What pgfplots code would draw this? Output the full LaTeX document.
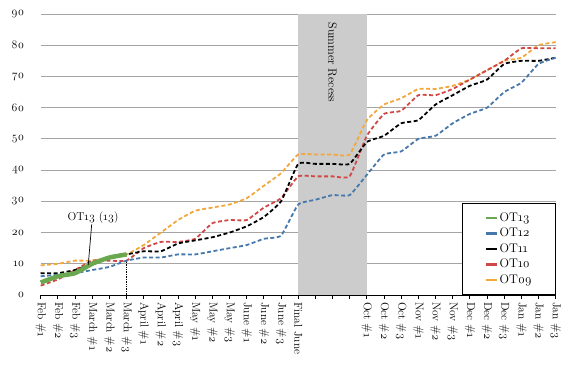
\documentclass[border=0pt]{standalone}
\usepackage{fontspec}
\setmainfont{Latin Modern Roman}[Numbers=OldStyle]
\usepackage{pgfplots}
\pgfplotsset{compat=1.18}
\usepackage{pgfplotstable}

\definecolor{cgreen}{RGB}{106,168,79}
\definecolor{cblue}{RGB}{70,120,172}
\definecolor{cred}{RGB}{208,72,70}
\definecolor{corange}{RGB}{242,168,60}
\definecolor{cgrid}{RGB}{165,165,165}
\definecolor{crecess}{RGB}{204,204,204}

\pgfplotstableread{
idx OT09 OT10 OT11 OT12
0  9.5  3  7    6
1  10   5  7    6.5
2  11   8  8    7
3  11   11 10   8
4  12   11 12   9
5  13   11 13   11
6  16   15 14   12
7  20   17 14   12
8  24   17 16.5 13
9  27   18 17.5 13
10 28   23 18.5 14
11 29   24 20   15
12 31   24 22   16
13 35   28 25   18
14 39   31 30   19
15 45   38 42   29
16 45   38 42   30.5
17 45   38 42   32
18 45   38 42   32
19 56   51 49   38.5
20 61   58 51   45
21 63   59 55   46
22 66   64 56   50
23 66   64 61   51
24 67   66 64   55
25 69   69 67   58
26 72   72 69   60
27 75   75 74   65
28 76   79 75   68
29 80   79 75   74
30 81   79 76   76
}\datamain

\pgfplotstableread{
idx OT13
0 4
1 6
2 7
3 10
4 12
5 13
}\datagreen

\begin{document}
\begin{tikzpicture}
\begin{axis}[
  scale only axis, width=515bp, height=281bp,
  at={(0,0)}, anchor=south west,
  xmin=0, xmax=30, ymin=0, ymax=90,
  axis lines*=left,
  y axis line style={draw=none},
  x axis line style={black, line width=0.9bp},
  xtick={0,...,30},
  xticklabels={Feb \#1, Feb \#2, Feb \#3, March \#1, March \#2, March \#3,
    April \#1, April \#2, April \#3, May \#1, May \#2, May \#3,
    June \#1, June \#2, June \#3, Final June, {}, {}, {},
    Oct \#1, Oct \#2, Oct \#3, Nov \#1, Nov \#2, Nov \#3,
    Dec \#1, Dec \#2, Dec \#3, Jan \#1, Jan \#2, Jan \#3},
  ytick={0,10,...,90},
  tick align=outside,
  major tick length=4bp,
  xtick style={black, line width=0.9bp},
  ytick style={draw=none},
  ymajorgrids,
  grid style={cgrid, line width=0.8bp},
  /pgf/number format/assume math mode=true,
  tick label style={font=\fontsize{11.5}{13}\selectfont, black},
  xticklabel style={rotate=-90, anchor=west, xshift=-0.5bp},
  yticklabel style={anchor=east, xshift=-9bp},
  legend style={at={(1,0)}, anchor=south east, draw=black, line width=0.8bp,
    font=\fontsize{12.5}{14}\selectfont, inner xsep=22bp, inner ysep=7bp,
    row sep=0.5bp,
    nodes={inner sep=1.5bp, text height=9bp, text depth=3bp},
    /tikz/every even column/.append style={column sep=6bp}},
  legend cell align=left,
  legend image code/.code={\draw[#1, solid, line width=2.4bp] (0bp,0bp) -- (11bp,0bp);},
  reverse legend,
  clip=false,
]
\fill[crecess] (axis cs:15,0) rectangle (axis cs:19,90);
\node[rotate=-90, anchor=west, font=\fontsize{12}{14}\selectfont] at (axis cs:17,88.3) {Summer Recess};
\draw[black, densely dotted, line width=0.7bp] (axis cs:5,0) -- (axis cs:5,11);

\addplot[corange, line width=1.8bp, dash pattern=on 4bp off 2.5bp, smooth, tension=0.25] table[x=idx, y=OT09] {\datamain};
\addlegendentry{OT09}
\addplot[cred, line width=1.8bp, dash pattern=on 4bp off 2.5bp, smooth, tension=0.25] table[x=idx, y=OT10] {\datamain};
\addlegendentry{OT10}
\addplot[black, line width=1.8bp, dash pattern=on 4bp off 2.5bp, smooth, tension=0.25] table[x=idx, y=OT11] {\datamain};
\addlegendentry{OT11}
\addplot[cblue, line width=1.8bp, dash pattern=on 4bp off 2.5bp, smooth, tension=0.25] table[x=idx, y=OT12] {\datamain};
\addlegendentry{OT12}
\addplot[cgreen, line width=4.5bp, smooth, tension=0.3] table[x=idx, y=OT13] {\datagreen};
\addlegendentry{OT13}

\draw[black, line width=0.7bp] (axis cs:2.97,22.6) -- (axis cs:2.77,9.6);
\node[font=\fontsize{11.5}{13}\selectfont] at (axis cs:3.05,24.7) {OT13 (13)};
\end{axis}
\pgfresetboundingbox
\path[use as bounding box] (-40.7bp,-75bp) rectangle (539.3bp,295bp);
\end{tikzpicture}
\end{document}
